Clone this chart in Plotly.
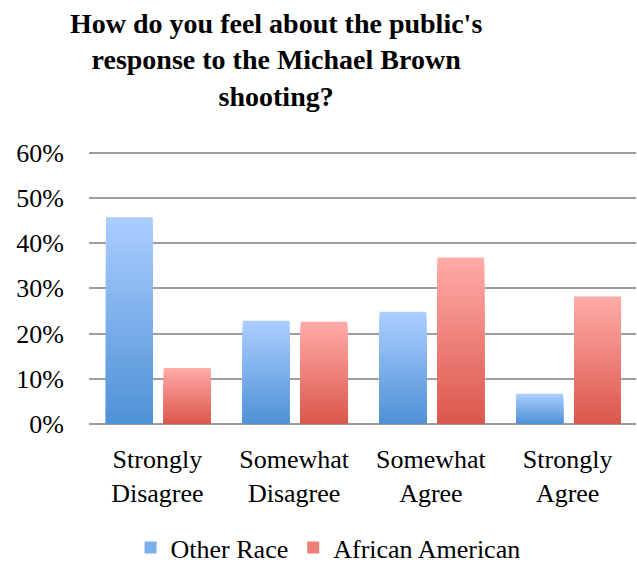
import plotly.graph_objects as go

categories = ["Strongly Disagree", "Somewhat Disagree", "Somewhat Agree", "Strongly Agree"]
other_race = [0.457, 0.228, 0.248, 0.067]
african_american = [0.124, 0.226, 0.368, 0.282]
series_names = ["Other Race", "African American"]
tick_vals = [0, 0.1, 0.2, 0.3, 0.4, 0.5, 0.6]
tick_text = ["0%", "10%", "20%", "30%", "40%", "50%", "60%"]
title_text = "How do you feel about the public's<br>response to the Michael Brown<br>shooting?"

FONT = "Liberation Serif"
N = 30

def lerp(c1, c2, t):
    return "rgb(%d,%d,%d)" % tuple(round(a + (b - a) * t) for a, b in zip(c1, c2))

styles = [
    dict(top=(170, 205, 255), bottom=(80, 146, 214), offset=-0.376),
    dict(top=(255, 170, 167), bottom=(219, 88, 76), offset=0.047),
]

fig = go.Figure()
for name, vals, st in zip(series_names, [other_race, african_american], styles):
    for i in range(N):
        frac = 1 - i / N
        fig.add_trace(go.Bar(
            x=categories,
            y=[v * frac for v in vals],
            name=name,
            marker=dict(color=lerp(st["top"], st["bottom"], i / (N - 1)), line=dict(width=0)),
            width=0.343,
            offset=st["offset"],
            showlegend=(i == N // 2),
            legendgroup=name,
            hoverinfo="skip" if i else None,
        ))

M_T, M_B, M_L, M_R = 148, 140, 89, 1
plot_h = 564 - M_T - M_B
plot_w = 637 - M_L - M_R
fig.update_layout(
    barmode="overlay",
    width=637, height=564,
    margin=dict(l=M_L, r=M_R, t=M_T, b=M_B),
    paper_bgcolor="white", plot_bgcolor="white",
    font=dict(family=FONT, size=26, color="black"),
    annotations=[dict(
        text="<b>" + title_text + "</b>",
        x=(276 - M_L) / plot_w, xref="paper", xanchor="center",
        y=1 + (M_T - 6) / plot_h, yref="paper", yanchor="top",
        showarrow=False, align="center",
        font=dict(family=FONT, size=28, color="black"),
    )],
    legend=dict(
        orientation="h", x=0.515, xanchor="center", xref="container",
        y=0.029, yanchor="middle", yref="container",
        font=dict(family=FONT, size=26, color="black"),
        itemwidth=30, traceorder="normal",
    ),
    showlegend=True,
)

fig.update_xaxes(
    tickvals=categories,
    ticktext=[c.replace(" ", "<br>") for c in categories],
    showgrid=False, showline=False, ticks="",
    ticklabelstandoff=17,
    tickfont=dict(family=FONT, size=26),
)
fig.update_yaxes(
    range=[0, 0.61], tickvals=tick_vals, ticktext=tick_text,
    showgrid=True, gridcolor="#9e9e9e", gridwidth=2,
    zeroline=True, zerolinecolor="#9e9e9e", zerolinewidth=2,
    showline=False, ticks="",
    ticklabelstandoff=24,
    tickfont=dict(family=FONT, size=26),
)

fig.write_html("out.html", config={"displayModeBar": False},
               post_script="document.body.style.margin='0';")
